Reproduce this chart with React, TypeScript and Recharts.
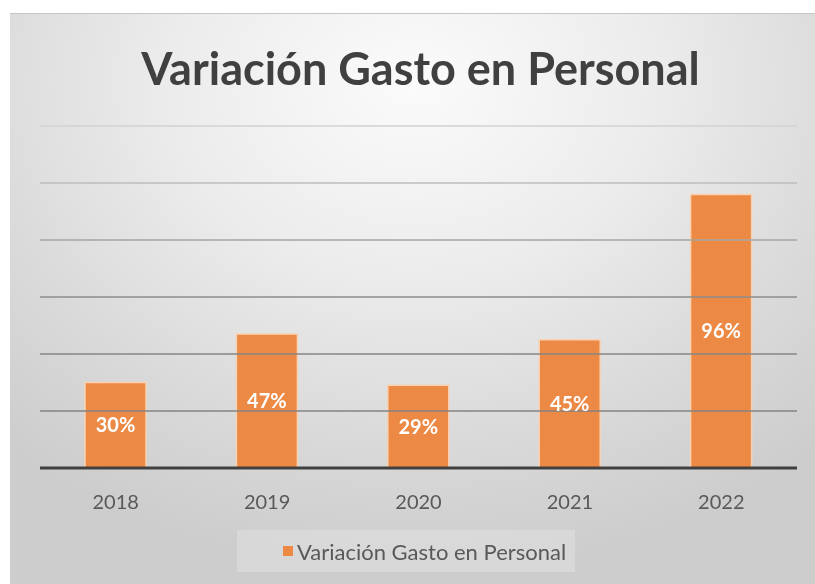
import React from "react";
import { BarChart, Bar, XAxis, YAxis, ReferenceLine, LabelList } from "recharts";

const categories = ["2018", "2019", "2020", "2021", "2022"];
const values = [30, 47, 29, 45, 96];
const yTicks = [20, 40, 60, 80, 100, 120];
const gridColors = ["#838383", "#868686", "#8c8c8c", "#a4a4a4", "#bcbcbc", "#d2d2d2"];
const seriesName = "Variación Gasto en Personal";
const title = "Variación Gasto en Personal";

const data = categories.map((c, i) => ({ year: c, value: values[i] }));

const FONT = "Lato, 'Open Sans', sans-serif";

export default function App() {
  return (
    <div
      style={{
        position: "fixed",
        left: 10,
        top: 13,
        width: 805,
        height: 571,
        background:
          "radial-gradient(ellipse 75% 85% at 50% 12%, #fbfbfb 0%, #ececec 40%, #d9d9d9 75%, #cdcdcd 100%)",
        borderTop: "1px solid #c6c6c6",
        boxSizing: "border-box",
        fontFamily: FONT,
        overflow: "hidden",
      }}
    >
      <div
        style={{
          position: "absolute",
          left: 8,
          top: 24,
          width: 805,
          textAlign: "center",
          fontSize: 45,
          fontWeight: 700,
          color: "#404040",
          lineHeight: "60px",
        }}
      >
        {title}
      </div>
      <BarChart
        width={805}
        height={570}
        data={data}
        margin={{ top: 112, right: 18, bottom: 86, left: 30 }}
        barSize={61}
      >
        <YAxis hide domain={[0, 120]} ticks={yTicks} />
        {yTicks.map((t, i) => (
          <ReferenceLine key={t} y={t} stroke={gridColors[i]} strokeWidth={1.6} />
        ))}
        <Bar dataKey="value" name={seriesName} fill="#EC8944" stroke="#F9D2B4" strokeWidth={1.5} isAnimationActive={false}>
          <LabelList
            dataKey="value"
            position="center"
            formatter={(v: number) => `${v}%`}
            fill="#ffffff"
            style={{ fontWeight: 700, fontSize: 20, fontFamily: FONT }}
          />
        </Bar>
        <XAxis
          dataKey="year"
          axisLine={{ stroke: "#404040", strokeWidth: 3 }}
          tickLine={false}
          tickMargin={21}
          height={30}
          tick={{ fill: "#595959", fontSize: 20, fontFamily: FONT }}
        />
      </BarChart>
      <div
        style={{
          position: "absolute",
          left: 227,
          top: 516,
          width: 338,
          height: 42,
          background: "rgba(255,255,255,0.22)",
          display: "flex",
          alignItems: "center",
          boxSizing: "border-box",
          paddingLeft: 46,
        }}
      >
        <span style={{ width: 10, height: 10, background: "#EC8944", display: "inline-block", marginRight: 4 }} />
        <span style={{ fontSize: 22, color: "#595959", whiteSpace: "nowrap" }}>{seriesName}</span>
      </div>
    </div>
  );
}
